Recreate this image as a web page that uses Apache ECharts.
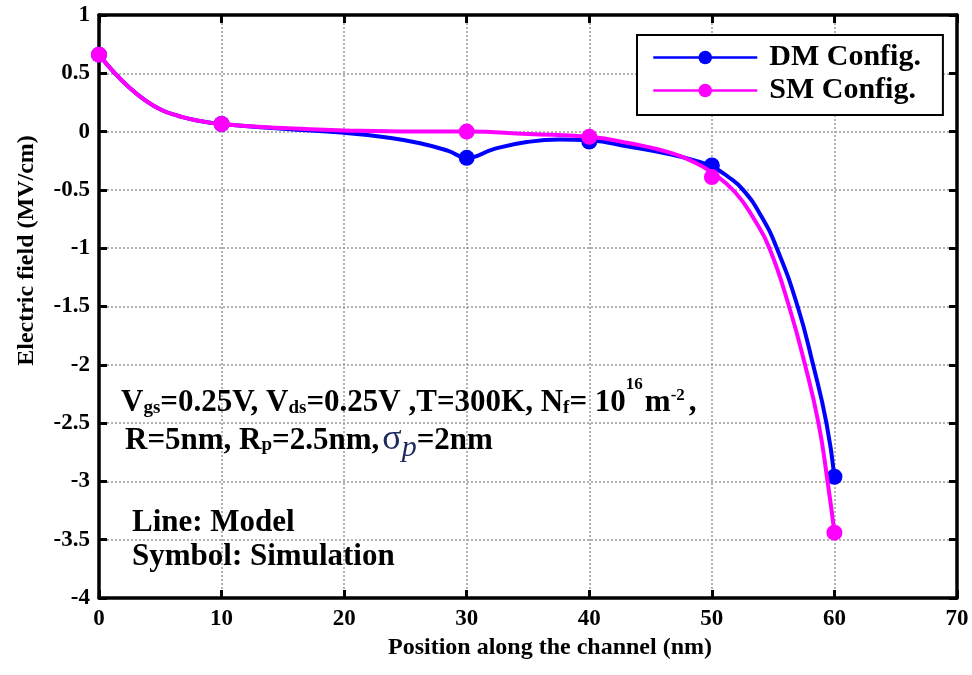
<!DOCTYPE html>
<html><head><meta charset="utf-8">
<script src="https://cdn.jsdelivr.net/npm/echarts@6/dist/echarts.min.js"></script>
<style>html,body{margin:0;padding:0;background:#fff}#c{width:972px;height:675px}</style>
</head><body><div id="c"></div>
<script>
// ---- data ----
const simX = [0, 10, 30, 40, 50, 60];
const dmSimY = [0.66, 0.065, -0.225, -0.085, -0.29, -2.96];
const smSimY = [0.66, 0.065, 0.0, -0.045, -0.39, -3.44];

const dmModelX = [0, 1.3, 2.4, 3.75, 5.1, 6.5, 7.8, 10, 15, 20, 23.5, 26.2, 28.5, 30, 32.2, 34.9, 37.6, 40, 43.3, 46.6, 48.5, 50, 51.3, 52.55, 54, 55.3, 57.0, 58.26, 59.35, 60];
const dmModelY = [0.66, 0.50, 0.385, 0.27, 0.185, 0.134, 0.10, 0.065, 0.025, -0.01, -0.05, -0.10, -0.165, -0.225, -0.15, -0.09, -0.068, -0.075, -0.13, -0.195, -0.245, -0.30, -0.385, -0.5, -0.72, -1.0, -1.5, -2.0, -2.5, -2.96];

const smModelX = [0, 1.3, 2.4, 3.75, 5.1, 6.5, 7.8, 10, 15, 20, 26, 30, 35, 40, 43.3, 46.6, 48.5, 50, 51.9, 53.5, 54.7, 56.3, 57.6, 58.7, 59.44, 60];
const smModelY = [0.66, 0.50, 0.385, 0.27, 0.185, 0.134, 0.10, 0.065, 0.03, 0.01, 0.0, 0.0, -0.02, -0.045, -0.10, -0.18, -0.26, -0.35, -0.52, -0.76, -1.0, -1.5, -2.0, -2.5, -3.0, -3.44];

const seriesNames = ['DM Config.', 'SM Config.'];
const xTitle = 'Position along the channel (nm)';
const yTitle = 'Electric field (MV/cm)';

// ---- chart ----
const FAM = '"Liberation Serif", "Times New Roman", serif';
const pairs = (xs, ys) => xs.map((x, i) => [x, ys[i]]);
const BLUE = '#0000ff', MAG = '#ff00ff';

const chart = echarts.init(document.getElementById('c'), null, {renderer: 'canvas'});

const axisLine = {show: true, onZero: false, lineStyle: {color: '#000', width: 3.5}};
const axisTick = {show: true, inside: true, length: 8, lineStyle: {color: '#000', width: 3}};
const labelStyle = {fontFamily: FAM, fontWeight: 'bold', fontSize: 23, color: '#000'};
const gridLine = {show: true, lineStyle: {type: [2, 2], color: '#9a9a9a', width: 1.5}};

const option = {
  animation: false,
  backgroundColor: '#fff',
  grid: {left: 99, right: 15, top: 15, bottom: 77, containLabel: false},
  legend: {
    data: seriesNames,
    orient: 'vertical',
    left: 637, top: 35,
    backgroundColor: '#fff',
    borderColor: '#000', borderWidth: 2,
    padding: [7, 22, 9, 15],
    itemWidth: 104, itemHeight: 17, itemGap: 2,
    lineStyle: {width: 2.5},
    textStyle: {fontFamily: FAM, fontWeight: 'bold', fontSize: 30, color: '#000', lineHeight: 31, padding: [0, 0, 0, 7]}
  },
  xAxis: [
    {type: 'value', min: 0, max: 70, interval: 10, position: 'bottom',
     axisLine, axisTick, axisLabel: Object.assign({margin: 10}, labelStyle),
     splitLine: gridLine,
     name: xTitle, nameLocation: 'middle', nameGap: 36,
     nameTextStyle: {fontFamily: FAM, fontWeight: 'bold', fontSize: 24, color: '#000', padding: [0, 0, 0, 44]}},
    {type: 'value', min: 0, max: 70, interval: 10, position: 'top',
     axisLine, axisTick, axisLabel: {show: false}, splitLine: {show: false}}
  ],
  yAxis: [
    {type: 'value', min: -4, max: 1, interval: 0.5, position: 'left',
     axisLine, axisTick, axisLabel: Object.assign({margin: 9}, labelStyle),
     splitLine: gridLine,
     name: yTitle, nameLocation: 'middle', nameGap: 60,
     nameTextStyle: {fontFamily: FAM, fontWeight: 'bold', fontSize: 24, color: '#000', padding: [0, 0, 0, 112]}},
    {type: 'value', min: -4, max: 1, interval: 0.5, position: 'right',
     axisLine, axisTick, axisLabel: {show: false}, splitLine: {show: false}}
  ],
  series: [
    {name: seriesNames[0], type: 'line', data: pairs(dmModelX, dmModelY), smooth: 0.5,
     symbol: 'none', lineStyle: {color: BLUE, width: 4}, itemStyle: {color: BLUE}, z: 2},
    {name: 'DM sim', type: 'scatter', data: pairs(simX, dmSimY), symbol: 'circle', symbolSize: 16,
     itemStyle: {color: BLUE, opacity: 1}, clip: false, z: 3},
    {name: seriesNames[1], type: 'line', data: pairs(smModelX, smModelY), smooth: 0.5,
     symbol: 'none', lineStyle: {color: MAG, width: 4}, itemStyle: {color: MAG}, z: 4},
    {name: 'SM sim', type: 'scatter', data: pairs(simX, smSimY), symbol: 'circle', symbolSize: 16,
     itemStyle: {color: MAG, opacity: 1}, clip: false, z: 5}
  ]
};
chart.setOption(option);

// ---- annotation text (rich layout by measured runs) ----
const ctx = document.createElement('canvas').getContext('2d');
const NAVY = '#1c2a5e';
function runs(x0, base, parts) {
  let x = x0; const els = [];
  parts.forEach(p => {
    const s = p.s || 31;
    const font = (p.it ? 'italic ' : '') + (p.w || 'bold') + ' ' + s + 'px ' + FAM;
    ctx.font = font;
    const w = ctx.measureText(p.t).width;
    els.push({type: 'text', x: x, y: base + (p.dy || 0) - 0.3375 * s, z: 100,
      style: {text: p.t, font: font, fill: p.c || '#000', align: 'left', verticalAlign: 'middle'}});
    x += w + (p.gap || 0);
  });
  return els;
}
const g = [].concat(
  runs(121, 413, [
    {t: 'V'}, {t: 'gs', s: 19, dy: 2}, {t: '=0.25V, V'}, {t: 'ds', s: 19, dy: 2},
    {t: '=0.25V ,T=300K, N'}, {t: 'f', s: 19, dy: 2}, {t: '= 10'}, {t: '16', s: 17, dy: -23, gap: 2},
    {t: 'm'}, {t: '-2', s: 17, dy: -12, gap: 4}, {t: ','}
  ]),
  runs(125, 451, [
    {t: 'R=5nm, R'}, {t: 'p', s: 19, dy: 1}, {t: '=2.5nm,', gap: 3},
    {t: 'σ', s: 36, w: 'normal', c: NAVY, dy: 1}, {t: 'p', s: 30, w: 'normal', it: true, c: NAVY, dy: 7},
    {t: '=2nm'}
  ]),
  runs(132, 533, [{t: 'Line: Model'}]),
  runs(132, 567, [{t: 'Symbol: Simulation'}])
);
chart.setOption({graphic: g});
</script>
</body></html>
